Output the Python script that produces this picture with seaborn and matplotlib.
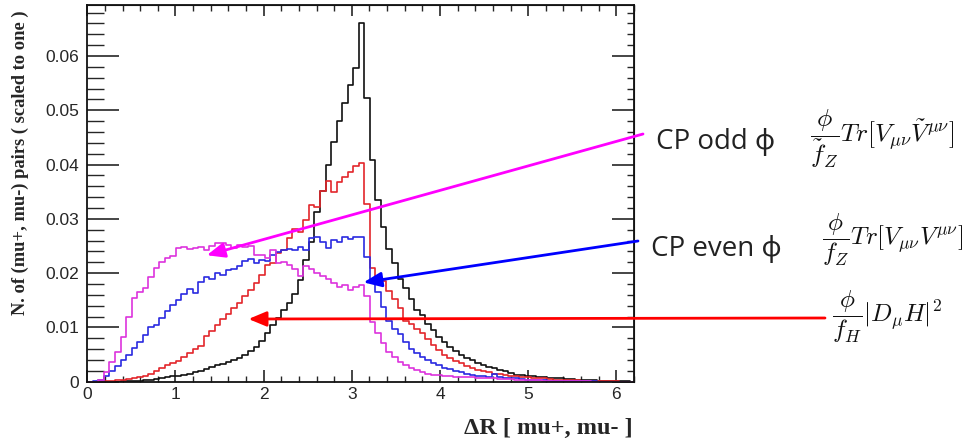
import numpy as np
import pandas as pd
import matplotlib
matplotlib.use("Agg")
import matplotlib.pyplot as plt
import seaborn as sns
from matplotlib.ticker import MultipleLocator, FuncFormatter

# Delta R distributions of the (mu+, mu-) pair, 100 bins over [0, 2*pi], normalised to one
n_bins = 100
x_max = 6.2
y_max = 0.0694

h_fH = [  # black
    0, 0, 0, 0, 0, 0, 0.0001, 0.0001, 0.0002, 0.0002,
    0.0003, 0.0004, 0.0005, 0.0007, 0.0008, 0.0010, 0.0011, 0.0013, 0.0015, 0.0017,
    0.0020, 0.0023, 0.0027, 0.0030, 0.0033, 0.0036, 0.0040, 0.0044, 0.0050, 0.0056,
    0.0064, 0.0075, 0.0090, 0.0104, 0.0117, 0.0132, 0.0145, 0.0162, 0.0187, 0.0225,
    0.0258, 0.0313, 0.0351, 0.0399, 0.0442, 0.0480, 0.0514, 0.0546, 0.0578, 0.0660,
    0.0522, 0.0409, 0.0335, 0.0285, 0.0245, 0.0218, 0.0190, 0.0172, 0.0153, 0.0133,
    0.0122, 0.0107, 0.0095, 0.0083, 0.0073, 0.0064, 0.0057, 0.0049, 0.0044, 0.0040,
    0.0034, 0.0031, 0.0028, 0.0025, 0.0022, 0.0019, 0.0016, 0.0013, 0.0012, 0.0011,
    0.0010, 0.0009, 0.0008, 0.0007, 0.0007, 0.0006, 0.0005, 0.0005, 0.0004, 0.0004,
    0.0003, 0.0003, 0.0002, 0.0002, 0.0002, 0.0001, 0.0001, 0.0001, 0, 0,
]
h_dmuH = [  # red
    0, 0, 0.0001, 0.0002, 0.0002, 0.0003, 0.0004, 0.0005, 0.0006, 0.0008,
    0.0011, 0.0015, 0.0020, 0.0026, 0.0031, 0.0035, 0.0038, 0.0045, 0.0052, 0.0060,
    0.0066, 0.0085, 0.0093, 0.0105, 0.0115, 0.0125, 0.0136, 0.0145, 0.0157, 0.0169,
    0.0181, 0.0196, 0.0215, 0.0218, 0.0238, 0.0242, 0.0265, 0.0282, 0.0275, 0.0297,
    0.0325, 0.0322, 0.0351, 0.0370, 0.0350, 0.0368, 0.0377, 0.0386, 0.0398, 0.0402,
    0.0328, 0.0210, 0.0195, 0.0185, 0.0168, 0.0152, 0.0135, 0.0112, 0.0106, 0.0098,
    0.0089, 0.0078, 0.0068, 0.0059, 0.0050, 0.0044, 0.0038, 0.0034, 0.0029, 0.0025,
    0.0022, 0.0019, 0.0017, 0.0015, 0.0014, 0.0012, 0.0011, 0.0010, 0.0009, 0.0008,
    0.0007, 0.0006, 0.0006, 0.0005, 0.0004, 0.0004, 0.0003, 0.0003, 0.0003, 0.0002,
    0.0002, 0.0001, 0.0001, 0.0001, 0.0001, 0.0001, 0, 0, 0, 0,
]
h_even = [  # blue
    0, 0.0001, 0.0004, 0.0011, 0.0020, 0.0029, 0.0040, 0.0049, 0.0062, 0.0074,
    0.0086, 0.0100, 0.0105, 0.0118, 0.0130, 0.0141, 0.0150, 0.0161, 0.0170, 0.0163,
    0.0184, 0.0192, 0.0190, 0.0200, 0.0197, 0.0205, 0.0208, 0.0213, 0.0222, 0.0226,
    0.0218, 0.0224, 0.0222, 0.0233, 0.0239, 0.0242, 0.0245, 0.0242, 0.0249, 0.0243,
    0.0264, 0.0267, 0.0258, 0.0246, 0.0261, 0.0258, 0.0267, 0.0262, 0.0267, 0.0267,
    0.0230, 0.0185, 0.0165, 0.0138, 0.0112, 0.0098, 0.0087, 0.0073, 0.0061, 0.0052,
    0.0045, 0.0040, 0.0035, 0.0031, 0.0026, 0.0023, 0.0020, 0.0017, 0.0015, 0.0013,
    0.0011, 0.0011, 0.0009, 0.0014, 0.0008, 0.0007, 0.0006, 0.0006, 0.0005, 0.0004,
    0.0004, 0.0003, 0.0003, 0.0002, 0.0002, 0.0002, 0.0002, 0.0001, 0.0001, 0.0001,
    0.0001, 0.0001, 0, 0, 0, 0, 0, 0, 0, 0,
]
h_odd = [  # magenta
    0, 0, 0.0003, 0.0018, 0.0037, 0.0055, 0.0083, 0.0120, 0.0155, 0.0166,
    0.0172, 0.0193, 0.0209, 0.0221, 0.0227, 0.0232, 0.0246, 0.0249, 0.0244, 0.0246,
    0.0248, 0.0242, 0.0250, 0.0256, 0.0255, 0.0252, 0.0246, 0.0251, 0.0249, 0.0250,
    0.0233, 0.0233, 0.0227, 0.0243, 0.0218, 0.0221, 0.0215, 0.0208, 0.0195, 0.0213,
    0.0207, 0.0201, 0.0195, 0.0190, 0.0181, 0.0174, 0.0178, 0.0169, 0.0175, 0.0178,
    0.0158, 0.0110, 0.0090, 0.0071, 0.0054, 0.0046, 0.0037, 0.0030, 0.0026, 0.0021,
    0.0017, 0.0015, 0.0013, 0.0012, 0.0011, 0.0010, 0.0009, 0.0009, 0.0008, 0.0008,
    0.0007, 0.0007, 0.0006, 0.0006, 0.0005, 0.0005, 0.0005, 0.0004, 0.0004, 0.0003,
    0.0003, 0.0003, 0.0002, 0.0002, 0.0002, 0.0002, 0.0001, 0.0001, 0.0001, 0.0001,
    0.0001, 0, 0, 0, 0, 0, 0, 0, 0, 0,
]

series = [
    (h_fH, "#111111"),
    (h_dmuH, "#e3262b"),
    (h_even, "#2a2ae0"),
    (h_odd, "#dd33dd"),
]

x_ticks = [0, 1, 2, 3, 4, 5, 6]
y_ticks = [0, 0.01, 0.02, 0.03, 0.04, 0.05, 0.06]

y_title = "N. of (mu+, mu-) pairs ( scaled to one )"
x_title = "\u0394R [ mu+, mu- ]"
odd_text = "CP odd \u03d5"
even_text = "CP even \u03d5"
odd_formula = r"$\dfrac{\phi}{\tilde{f}_Z}Tr[V_{\mu\nu}\tilde{V}^{\mu\nu}]$"
even_formula = r"$\dfrac{\phi}{f_Z}Tr[V_{\mu\nu}V^{\mu\nu}]$"
h_formula = r"$\dfrac{\phi}{f_H}|D_\mu H|^2$"

sns.set_style("ticks")
plt.rcParams["font.family"] = ["Liberation Sans", "DejaVu Sans"]
plt.rcParams["mathtext.fontset"] = "cm"

W, H = 973, 440
fig = plt.figure(figsize=(W / 100, H / 100), dpi=100)
ax = fig.add_axes([87.3 / W, 1 - 381.7 / H, (634 - 87.3) / W, (381.7 - 5) / H])

edges = np.linspace(0, 2 * np.pi, n_bins + 1)
centers = 0.5 * (edges[:-1] + edges[1:])
for values, color in series:
    df = pd.DataFrame({"dR": centers, "w": values})
    sns.histplot(data=df, x="dR", weights="w", bins=edges.tolist(), element="step",
                 fill=False, color=color, linewidth=1.2, ax=ax)

ax.set_xlim(0, x_max)
ax.set_ylim(0, y_max)
ax.set_xlabel("")
ax.set_ylabel("")
ax.set_xticks(x_ticks)
ax.set_yticks(y_ticks)
ax.xaxis.set_minor_locator(MultipleLocator(0.2))
ax.yaxis.set_minor_locator(MultipleLocator(0.002))
ax.yaxis.set_major_formatter(FuncFormatter(lambda v, p: "0" if abs(v) < 1e-9 else f"{v:.2f}"))
ax.tick_params(axis="y", which="major", direction="in", length=23, width=1.2,
               labelsize=12.5, pad=6)
ax.tick_params(axis="y", which="minor", direction="in", length=12, width=1.0)
ax.tick_params(axis="x", which="major", direction="in", length=9, width=1.2,
               labelsize=12.5, pad=4)
ax.tick_params(axis="x", which="minor", direction="in", length=4.5, width=1.0)
for s in ax.spines.values():
    s.set_linewidth(1.3)
    s.set_visible(True)
    s.set_color("#111111")

# ticks on the opposite sides of the frame
top = ax.secondary_xaxis("top")
top.set_xticks(x_ticks)
top.xaxis.set_minor_locator(MultipleLocator(0.2))
top.tick_params(which="major", direction="in", length=8, width=1.2, labeltop=False)
top.tick_params(which="minor", direction="in", length=4, width=1.0)
right = ax.secondary_yaxis("right")
right.set_yticks(y_ticks)
right.yaxis.set_minor_locator(MultipleLocator(0.002))
right.tick_params(which="major", direction="in", length=16, width=1.2, labelright=False)
right.tick_params(which="minor", direction="in", length=5, width=1.0)

serif_bold = dict(family=["Liberation Serif", "DejaVu Serif"], fontweight="bold")
fig.text(20 / W, 1 - 10 / H, y_title, rotation=90, ha="center", va="top",
         fontsize=13.3, **serif_bold)
fig.text(633 / W, 1 - 428 / H, x_title, ha="right", va="center",
         fontsize=17.5, **serif_bold)

# arrows from the operator labels to their curves
def pointer(tip, start_px, color):
    ax.annotate("", xy=tip, xycoords="data",
                xytext=(start_px[0] / W, 1 - start_px[1] / H), textcoords="figure fraction",
                arrowprops=dict(arrowstyle="-|>,head_length=0.6,head_width=0.25",
                                color=color, lw=2, mutation_scale=18,
                                shrinkA=0, shrinkB=0),
                annotation_clip=False)

pointer((1.355, 0.0233), (643, 134), "#ff00ff")
pointer((3.133, 0.0183), (638, 241), "#0000ff")
pointer((1.828, 0.01155), (825, 318), "#ff0000")

label_font = dict(family=["Open Sans", "Noto Sans", "DejaVu Sans"], fontsize=20, color="#222222")
fig.text(656 / W, 1 - 149.3 / H, odd_text, ha="left", va="baseline", **label_font)
fig.text(651 / W, 1 - 255.7 / H, even_text, ha="left", va="baseline", **label_font)

fig.text(810 / W, 1 - 138.5 / H, odd_formula, ha="left", va="center", fontsize=18.5, color="#111111")
fig.text(822 / W, 1 - 240 / H, even_formula, ha="left", va="center", fontsize=18, color="#111111")
fig.text(832 / W, 1 - 316.5 / H, h_formula, ha="left", va="center", fontsize=18, color="#111111")

fig.savefig("out.png", dpi=100)
